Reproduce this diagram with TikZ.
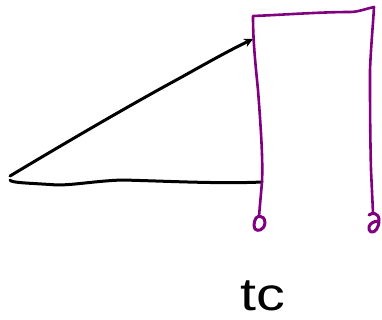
\documentclass[tikz,border=0pt]{standalone}
\usepackage{fontspec}
\setmainfont{Liberation Sans}
\usetikzlibrary{arrows.meta}
\definecolor{pen}{RGB}{128,0,128}
\tikzset{
  inkblack/.style={draw=black,line width=3pt,line cap=round,line join=round},
  inkpurple/.style={draw=pen,line width=2.6pt,line cap=round,line join=round},
}
\begin{document}
\begin{tikzpicture}[x=1pt,y=-1pt]
\useasboundingbox (0,0) rectangle (382,320);
% ray from the apex to the frame
\coordinate (apex) at (10,176);
\coordinate (hit) at (253,39);
\draw[inkblack,-{Stealth[length=9pt,width=9pt]}] (apex) .. controls (60,146) and (130,105) .. (180,78) .. controls (205,64) and (230,50) .. (hit);
% horizontal line
\draw[inkblack] (10,180) .. controls (11,183) and (30,183) .. (57,185) .. controls (75,185) and (95,181) .. (122,180) .. controls (165,181) and (220,184) .. (262,182);
% purple frame
\draw[inkpurple] (259,216) -- (262,182) .. controls (263,160) and (261,130) .. (258,90) .. controls (255,60) and (253,40) .. (253,16)
  .. controls (280,15) and (320,12) .. (350,12) .. controls (358,12) and (365,9) .. (374,7)
  .. controls (373,25) and (371,45) .. (370,70) .. controls (370,100) and (370,130) .. (371,170) -- (373,213);
% left ring
\draw[inkpurple,line width=3pt] (259,216) .. controls (254,217) and (253,226) .. (255,229) .. controls (258,232) and (264,230) .. (265,223) .. controls (265,218) and (262,216) .. (259,216);
% right ring
\draw[inkpurple,line width=3pt] (369,215) .. controls (372,212) and (379,213) .. (379,220) .. controls (379,228) and (375,233) .. (371,232) .. controls (367,230) and (368,222) .. (378,221);
% label
\node[anchor=base west,inner sep=0pt,xscale=1.25,font=\fontsize{46pt}{46pt}\selectfont,text=black] (tc) at (240,310) {tc};
\end{tikzpicture}
\end{document}
